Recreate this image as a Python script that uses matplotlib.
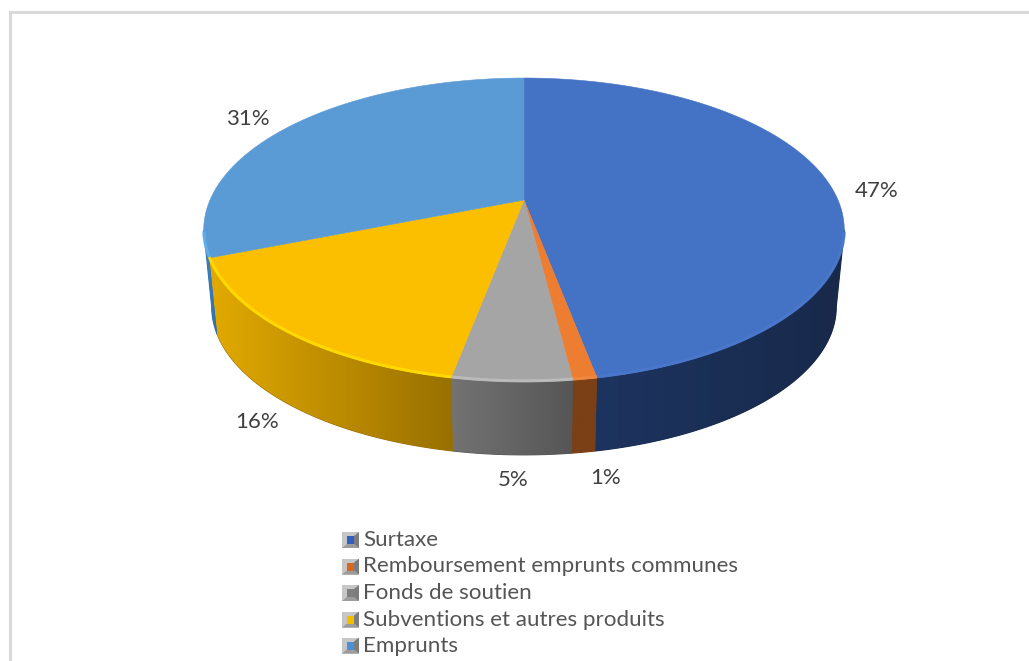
import matplotlib
matplotlib.use("Agg")
import matplotlib.pyplot as plt
import numpy as np
from matplotlib.colors import LinearSegmentedColormap
from matplotlib.patches import Polygon, Rectangle

categories = ["Surtaxe", "Remboursement emprunts communes", "Fonds de soutien",
              "Subventions et autres produits", "Emprunts"]
shares = [47, 1, 5, 16, 31]
top_colors = ["#4472C4", "#ED7D31", "#A5A5A5", "#FBBF00", "#5B9BD5"]
rim_colors = ["#4A78CC", "#F08A40", "#BDBDBD", "#FFDD00", "#62B0EE"]
side_left = ["#1D3460", "#7B4016", "#737373", "#E2AA00", "#3F86C8"]
side_right = ["#18294A", "#7B4016", "#565656", "#997000", "#2E6DA8"]
key_centers = ["#2F5FC0", "#D9681F", "#7F7F7F", "#F0BE00", "#4A90D8"]
label_pos = [(877, 191), (606, 478), (513, 480), (257, 422), (248, 119)]
legend_y = [540, 566.5, 593, 619.5, 645.5]

plt.rcParams["font.family"] = ["Lato", "DejaVu Sans"]

# perspective disc: apex on screen, half axes and foreshortening
CX, CY = 524, 200
A, B, K = 314, 146, 0.197
DEPTH, SHRINK = 77.6, 0.975


def project(theta, lift=0.0, scale=1.0):
    # theta runs clockwise from the back of the pie
    u, v = np.sin(theta), -np.cos(theta)
    w = 1 - K * v
    return CX + scale * A * u / w, CY + lift + scale * B * v / w


fig = plt.figure(figsize=(10.29, 6.61), dpi=100)
ax = fig.add_axes([0, 0, 1, 1])
ax.set_xlim(0, 1029)
ax.set_ylim(661, 0)
ax.axis("off")

# chart frame, only its top and left edges are in view
ax.plot([9.5, 9.5, 1029], [661, 12, 12], color="#D9D9D9", lw=2.2, solid_joinstyle="miter")

edges = np.radians(np.cumsum([0] + shares) * 3.6)
ramp = np.linspace(0, 1, 256).reshape(1, -1)

# the wall shows only between the two widest points of the disc
vis_start = np.pi - np.arccos(K)
vis_end = np.pi + np.arccos(K)

for i in range(len(shares)):
    start, end = max(edges[i], vis_start), min(edges[i + 1], vis_end)
    if end <= start:
        continue
    th = np.linspace(start, end, 200)
    x_top, y_top = project(th)
    x_low, y_low = project(th, DEPTH, SHRINK)
    outline = np.column_stack([np.r_[x_top, x_low[::-1]], np.r_[y_top, y_low[::-1]]])
    # flat base closes the seams, the colour ramp goes on top of it
    wall = Polygon(outline, fc=side_right[i], ec=side_right[i], lw=0.8, zorder=2)
    ax.add_patch(wall)
    cmap = LinearSegmentedColormap.from_list("wall", [side_left[i], side_right[i]])
    im = ax.imshow(ramp, extent=(outline[:, 0].min(), outline[:, 0].max(), 480, 190),
                   cmap=cmap, aspect="auto", zorder=2.5, interpolation="bilinear")
    im.set_clip_path(wall)
ax.set_xlim(0, 1029)
ax.set_ylim(661, 0)

# top face and its lit rim
for i in range(len(shares)):
    th = np.linspace(edges[i], edges[i + 1], 120)
    x_top, y_top = project(th)
    pts = np.column_stack([np.r_[CX, x_top], np.r_[CY, y_top]])
    ax.add_patch(Polygon(pts, fc=top_colors[i], ec=top_colors[i], lw=0.4, zorder=3))
    front = (th > vis_start) & (th < vis_end)
    ax.plot(x_top[front], y_top[front] - 1, color=rim_colors[i], lw=2.2,
            alpha=0.9, solid_capstyle="butt", zorder=4)

for share, (x, y) in zip(shares, label_pos):
    ax.text(x, y, f"{share}%", color="#404040", fontsize=16, ha="center", va="center", zorder=5)

# legend with bevelled keys
for name, col, y in zip(categories, key_centers, legend_y):
    ax.add_patch(Rectangle((342, y - 8), 17, 16, fc="#C6C6C6", ec="none", zorder=5))
    ax.add_patch(Polygon([(342, y + 8), (359, y + 8), (354, y + 4), (347, y + 4)],
                         fc="#9C9C9C", ec="none", zorder=6))
    ax.add_patch(Polygon([(359, y - 8), (359, y + 8), (354, y + 4), (354, y - 4)],
                         fc="#7C7C7C", ec="none", zorder=6))
    ax.add_patch(Rectangle((346.5, y - 4), 7.5, 8, fc=col, ec="none", zorder=7))
    ax.text(363, y, name, color="#555555", fontsize=16.1, ha="left", va="center", zorder=5)

fig.savefig("out.png", dpi=100)
